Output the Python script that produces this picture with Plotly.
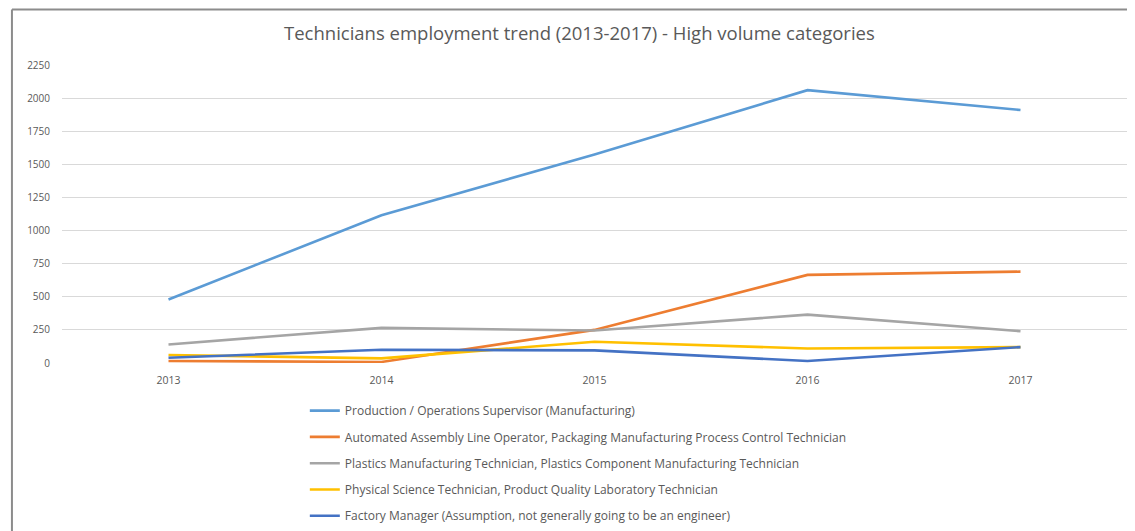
import plotly.graph_objects as go

years = ["2013", "2014", "2015", "2016", "2017"]
series_names = [
    "Production / Operations Supervisor (Manufacturing)",
    "Automated Assembly Line Operator, Packaging Manufacturing Process Control Technician",
    "Plastics Manufacturing Technician, Plastics Component Manufacturing Technician",
    "Physical Science Technician, Product Quality Laboratory Technician",
    "Factory Manager (Assumption, not generally going to be an engineer)",
]
production = [480, 1115, 1575, 2060, 1910]
automated = [15, 8, 250, 665, 690]
plastics = [140, 265, 245, 365, 240]
physical = [60, 35, 160, 110, 120]
factory = [40, 100, 95, 15, 120]
colors = ["#5B9BD5", "#ED7D31", "#A5A5A5", "#FFC000", "#4472C4"]
y_ticks = [0, 250, 500, 750, 1000, 1250, 1500, 1750, 2000, 2250]

values = [production, automated, plastics, physical, factory]

fig = go.Figure()
for i, (name, vals, col) in enumerate(zip(series_names, values, colors)):
    fig.add_trace(go.Scatter(
        x=years, y=vals, name=name, mode="lines",
        line=dict(color=col, width=2.6),
        legendgroup=f"g{i}",
    ))

font_fam = "Open Sans, Liberation Sans, sans-serif"
fig.update_layout(
    width=1127, height=523,
    margin=dict(l=54, r=8, t=57, b=168, autoexpand=False),
    paper_bgcolor="white", plot_bgcolor="white",
    title=dict(text="Technicians employment trend (2013-2017) - High volume categories",
               x=0.507, xanchor="center", y=0.952, yanchor="middle",
               font=dict(family=font_fam, size=18.5, color="#595959")),
    font=dict(family=font_fam, size=10, color="#595959"),
    xaxis=dict(type="category", range=[-0.5, 4.5], showgrid=False, showline=False,
               ticks="", tickfont=dict(size=10.5, color="#595959"), ticklabelstandoff=9),
    yaxis=dict(range=[0, 2250], tickvals=y_ticks, showgrid=True, gridcolor="#D9D9D9",
               gridwidth=1, zeroline=False, showline=False, ticks="",
               tickfont=dict(size=10, color="#595959"), ticklabelstandoff=11),
    legend=dict(x=0.228, xanchor="left", y=-0.111, yanchor="top",
                orientation="v", traceorder="grouped", tracegroupgap=7.3,
                itemwidth=30, font=dict(size=12, color="#595959"),
                bgcolor="rgba(0,0,0,0)"),
    showlegend=True,
)

# chart frame (top and left edges visible in reference)
fig.add_shape(type="line", xref="paper", yref="paper", x0=-0.047, x1=1.02, y0=1.186, y1=1.186,
              line=dict(color="#8C8C8C", width=2))
fig.add_shape(type="line", xref="paper", yref="paper", x0=-0.047, x1=-0.047, y0=1.186, y1=-0.62,
              line=dict(color="#8C8C8C", width=2))

fig.write_html("out.html")
